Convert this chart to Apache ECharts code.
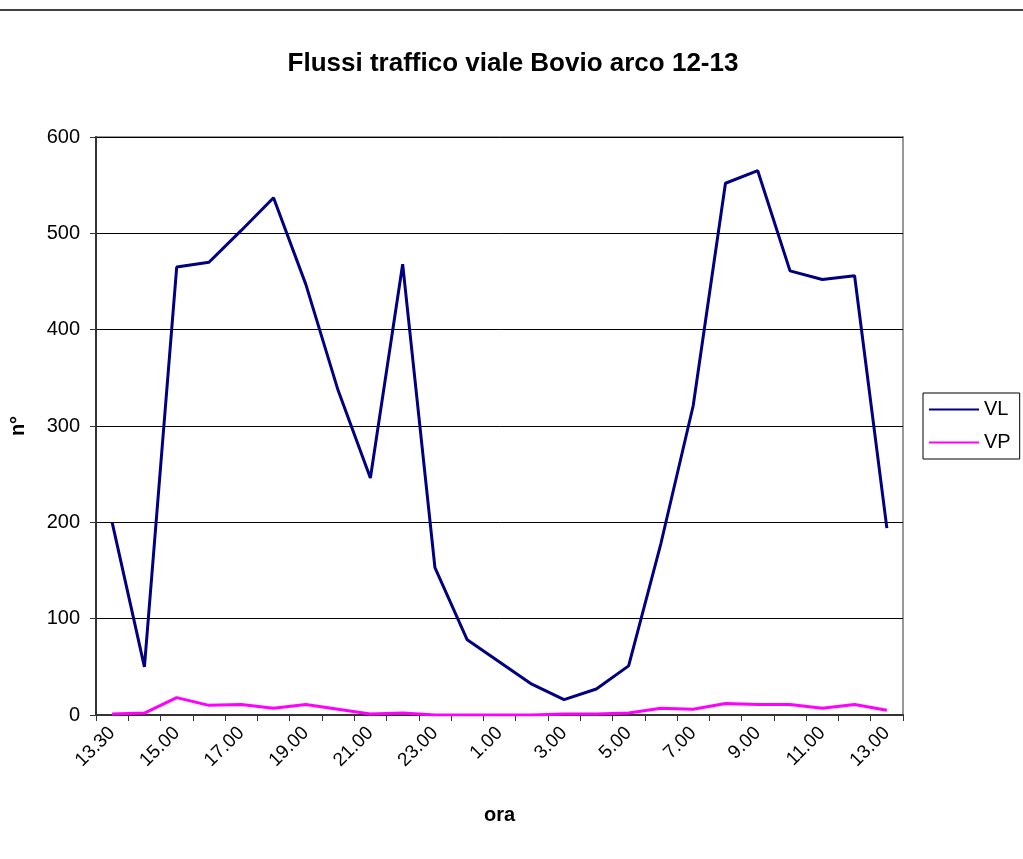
<!DOCTYPE html>
<html>
<head>
<meta charset="utf-8">
<script src="https://cdn.jsdelivr.net/npm/echarts@6/dist/echarts.min.js"></script>
<style>html,body{margin:0;padding:0;background:#fff;}#c{width:1023px;height:859px;}</style>
</head>
<body>
<div id="c"></div>
<script>
var categories = ['13.30','14.00','15.00','16.00','17.00','18.00','19.00','20.00','21.00','22.00','23.00','0.00','1.00','2.00','3.00','4.00','5.00','6.00','7.00','8.00','9.00','10.00','11.00','12.00','13.00'];
var VL = [200, 50, 465, 470, 503, 537, 447, 337, 246, 468, 153, 78, 55, 32, 16, 27, 51, 178, 321, 552, 565, 461, 452, 456, 194];
var VP = [1, 2, 18, 10, 11, 7, 11, 6, 1, 2, 0, 0, 0, 0, 1, 1, 2, 7, 6, 12, 11, 11, 7, 11, 5];
var yTicks = {min: 0, max: 600, interval: 100};

var font = 'Liberation Sans, Arial, sans-serif';
var chart = echarts.init(document.getElementById('c'), null, {renderer: 'canvas'});
chart.setOption({
  animation: false,
  backgroundColor: '#fff',
  title: {
    text: 'Flussi traffico viale Bovio arco 12-13',
    left: 508, top: 46, textAlign: 'center',
    textStyle: {fontFamily: font, fontSize: 26, fontWeight: 'bold', color: '#000'}
  },
  graphic: [{
    type: 'rect', shape: {x: 0, y: 9, width: 1023, height: 2},
    style: {fill: '#404040'}, silent: true
  }],
  legend: {
    orient: 'vertical', left: 923, top: 393,
    padding: [5, 9, 5, 6],
    itemGap: 10,
    itemWidth: 50, itemHeight: 2,
    icon: 'rect',
    borderColor: '#000', borderWidth: 1,
    textStyle: {fontFamily: font, fontSize: 20, lineHeight: 23, color: '#000'},
    data: ['VL', 'VP']
  },
  grid: {
    left: 94, right: 120, top: 137, bottom: 144,
    show: true, borderColor: '#999', borderWidth: 2, backgroundColor: 'transparent'
  },
  xAxis: {
    type: 'category', data: categories, boundaryGap: true,
    name: 'ora', nameLocation: 'middle', nameGap: 90,
    nameTextStyle: {fontFamily: font, fontSize: 20, fontWeight: 'bold', color: '#000'},
    axisLine: {lineStyle: {color: '#333', width: 2}},
    axisTick: {show: true, interval: 0, length: 6, lineStyle: {color: '#333', width: 1}},
    axisLabel: {interval: 1, rotate: 45, fontFamily: font, fontSize: 19, color: '#000', margin: 15},
    splitLine: {show: false}
  },
  yAxis: {
    type: 'value', min: yTicks.min, max: yTicks.max, interval: yTicks.interval,
    name: 'n°', nameLocation: 'middle', nameGap: 68, nameRotate: 90,
    nameTextStyle: {fontFamily: font, fontSize: 20, fontWeight: 'bold', color: '#000'},
    axisLine: {show: true, lineStyle: {color: '#333', width: 2}},
    axisTick: {show: true, length: 6, lineStyle: {color: '#333', width: 1}},
    axisLabel: {fontFamily: font, fontSize: 20, color: '#000', margin: 16},
    splitLine: {show: true, lineStyle: {color: '#000', width: 1}}
  },
  series: [
    {name: 'VL', type: 'line', data: VL, showSymbol: false, symbol: 'none',
     lineStyle: {color: '#000080', width: 3}, itemStyle: {color: '#000080'}},
    {name: 'VP', type: 'line', data: VP, showSymbol: false, symbol: 'none',
     lineStyle: {color: '#ff00ff', width: 3}, itemStyle: {color: '#ff00ff'}}
  ]
});
</script>
</body>
</html>
